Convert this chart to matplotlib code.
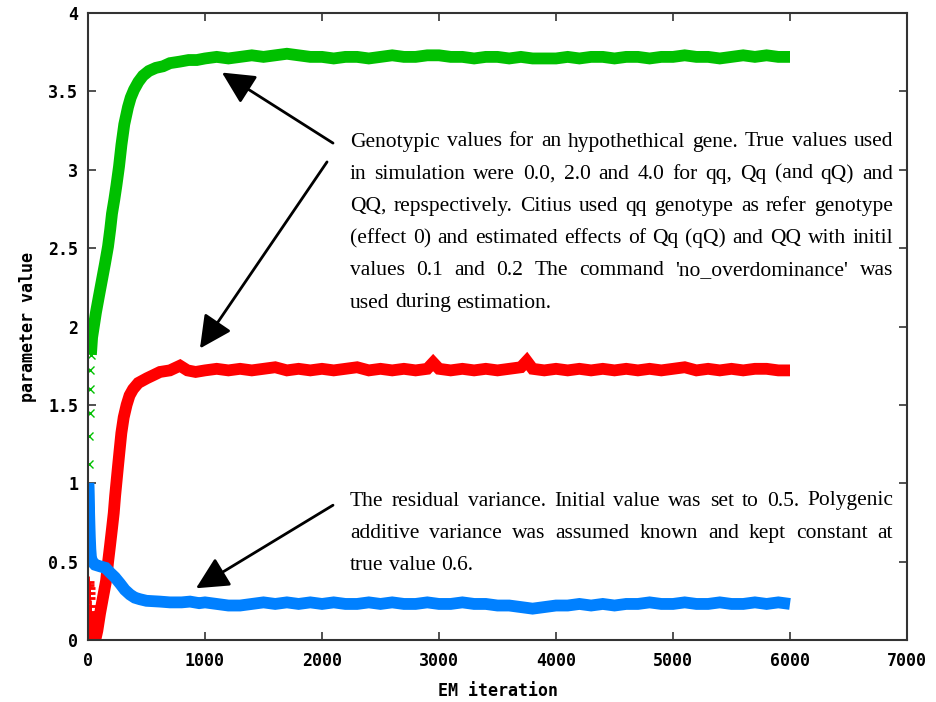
import matplotlib
matplotlib.use("Agg")
import matplotlib.pyplot as plt

# EM iterations / parameter values
green_it = [0, 2, 4, 6, 8, 10, 12, 14, 17, 20, 25,
            35, 68, 95, 120, 145, 171, 190, 205, 225, 243, 265, 286, 310, 342, 365, 393,
            430, 470, 520, 580, 641, 700, 786, 860, 930, 1000,
            1100, 1200, 1300, 1400, 1500, 1600, 1700, 1800, 1900, 2000,
            2100, 2200, 2300, 2400, 2500, 2600, 2700, 2800, 2900, 3000,
            3100, 3200, 3300, 3400, 3500, 3600, 3700, 3800, 3900, 4000,
            4100, 4200, 4300, 4400, 4500, 4600, 4700, 4800, 4900, 5000,
            5100, 5200, 5300, 5400, 5500, 5600, 5700, 5800, 5900, 6000]
green_val = [0.2, 0.32, 0.5, 0.72, 0.95, 1.12, 1.3, 1.45, 1.6, 1.72, 1.82,
             1.93, 2.09, 2.2, 2.30, 2.4, 2.51, 2.62, 2.72, 2.81, 2.9, 3.02, 3.16, 3.29, 3.40, 3.46, 3.51,
             3.56, 3.6, 3.63, 3.65, 3.66, 3.68, 3.69, 3.70, 3.70, 3.71,
             3.72, 3.71, 3.72, 3.73, 3.72, 3.73, 3.74, 3.73, 3.72, 3.72,
             3.71, 3.72, 3.72, 3.71, 3.72, 3.73, 3.72, 3.72, 3.73, 3.73,
             3.72, 3.72, 3.71, 3.72, 3.72, 3.71, 3.72, 3.71, 3.71, 3.71,
             3.72, 3.71, 3.72, 3.72, 3.71, 3.72, 3.72, 3.71, 3.72, 3.72,
             3.73, 3.72, 3.72, 3.71, 3.72, 3.73, 3.72, 3.73, 3.72, 3.72]

red_it = [0, 2, 4, 6, 9, 12, 16, 20,
          25, 35, 45, 55, 65, 80, 103, 130, 155, 172, 188, 205, 220, 232, 245, 258, 270,
          285, 305, 330, 355, 385, 430, 504, 560, 615, 700, 786, 850, 920, 1000,
          1100, 1200, 1300, 1400, 1500, 1600, 1700, 1800, 1900, 2000,
          2100, 2200, 2300, 2400, 2500, 2600, 2700, 2800, 2900, 2950, 3000,
          3100, 3200, 3300, 3400, 3500, 3600, 3700, 3750, 3800, 3900, 4000,
          4100, 4200, 4300, 4400, 4500, 4600, 4700, 4800, 4900, 5000,
          5100, 5200, 5300, 5400, 5500, 5600, 5700, 5800, 5900, 6000]
red_val = [0.1, 0.37, 0.35, 0.33, 0.3, 0.27, 0.22, 0.18,
           0.14, 0.08, 0.03, 0.0, 0.01, 0.06, 0.17, 0.28, 0.38, 0.5, 0.60, 0.71, 0.81, 0.92, 1.02, 1.12, 1.21,
           1.32, 1.42, 1.50, 1.56, 1.60, 1.64, 1.67, 1.69, 1.71, 1.72, 1.75, 1.72, 1.71, 1.72,
           1.73, 1.72, 1.73, 1.72, 1.73, 1.74, 1.72, 1.73, 1.72, 1.73,
           1.72, 1.73, 1.74, 1.72, 1.73, 1.72, 1.73, 1.72, 1.73, 1.77, 1.73,
           1.72, 1.73, 1.72, 1.73, 1.72, 1.73, 1.74, 1.78, 1.73, 1.72, 1.73,
           1.72, 1.73, 1.72, 1.73, 1.72, 1.73, 1.72, 1.73, 1.72, 1.73,
           1.74, 1.72, 1.73, 1.72, 1.73, 1.72, 1.73, 1.73, 1.72, 1.72]

blue_it = [0, 2, 4, 6, 8, 10, 13, 16, 20, 25,
           35, 60, 103, 150, 188, 230, 274, 315, 359, 400, 444, 500, 615, 700, 800, 872, 950, 1000,
           1100, 1200, 1300, 1400, 1500, 1600, 1700, 1800, 1900, 2000,
           2100, 2200, 2300, 2400, 2500, 2600, 2700, 2800, 2900, 3000,
           3100, 3200, 3300, 3400, 3500, 3600, 3700, 3800, 3900, 4000,
           4100, 4200, 4300, 4400, 4500, 4600, 4700, 4800, 4900, 5000,
           5100, 5200, 5300, 5400, 5500, 5600, 5700, 5800, 5900, 6000]
blue_val = [0.5, 1.0, 0.98, 0.93, 0.87, 0.8, 0.72, 0.65, 0.58, 0.53,
            0.5, 0.48, 0.47, 0.46, 0.43, 0.40, 0.36, 0.32, 0.29, 0.27, 0.26, 0.25, 0.245, 0.24, 0.24, 0.245, 0.235, 0.24,
            0.23, 0.22, 0.22, 0.23, 0.24, 0.23, 0.24, 0.23, 0.24, 0.23,
            0.24, 0.23, 0.23, 0.24, 0.23, 0.24, 0.23, 0.23, 0.24, 0.23,
            0.23, 0.24, 0.23, 0.23, 0.22, 0.22, 0.21, 0.20, 0.21, 0.22,
            0.22, 0.23, 0.22, 0.23, 0.22, 0.23, 0.23, 0.24, 0.23, 0.23,
            0.24, 0.23, 0.23, 0.24, 0.23, 0.23, 0.24, 0.23, 0.24, 0.23]

n_green_pts = 11   # first iterations drawn as single markers
n_red_pts = 8

xticks = [0, 1000, 2000, 3000, 4000, 5000, 6000, 7000]
yticks = [0, 0.5, 1, 1.5, 2, 2.5, 3, 3.5, 4]
ytick_labels = ['0', '0.5', '1', '1.5', '2', '2.5', '3', '3.5', '4']

text1 = ["Genotypic values for an hypothethical gene. True values used",
         "in simulation were 0.0, 2.0 and 4.0 for qq, Qq (and qQ) and",
         "QQ, repspectively. Citius used qq genotype as refer genotype",
         "(effect 0) and estimated effects of Qq (qQ) and QQ with initil",
         "values 0.1 and 0.2 The command 'no_overdominance' was",
         "used during estimation."]
text2 = ["The residual variance. Initial value was set to 0.5. Polygenic",
         "additive variance was assumed known and kept constant at",
         "true value 0.6."]

W, H = 936, 702
fig = plt.figure(figsize=(W / 100, H / 100), dpi=100)
ax = fig.add_axes([88 / W, 1 - 640 / H, (907 - 88) / W, (640 - 13) / H])

GREEN, RED, BLUE = '#00c000', '#ff0000', '#0080ff'
lw = 8.5

ax.plot(green_it[:n_green_pts], green_val[:n_green_pts], 'x', color=GREEN, ms=6, mew=1)
ax.plot(red_it[:n_red_pts], red_val[:n_red_pts], '+', color=RED, ms=8, mew=2)
ax.plot(green_it[n_green_pts - 1:], green_val[n_green_pts - 1:], color=GREEN, lw=lw,
        solid_joinstyle='miter', solid_capstyle='butt')
ax.plot(red_it[n_red_pts - 1:], red_val[n_red_pts - 1:], color=RED, lw=lw,
        solid_joinstyle='miter', solid_capstyle='butt')
ax.plot(blue_it, blue_val, color=BLUE, lw=lw, solid_joinstyle='miter', solid_capstyle='butt')

ax.set_xlim(0, 7000)
ax.set_ylim(0, 4)
ax.set_xticks(xticks)
ax.set_yticks(yticks)
ax.set_yticklabels(ytick_labels)
tickfont = dict(family='DejaVu Sans Mono', weight='bold', size=12)
for lab in ax.get_xticklabels() + ax.get_yticklabels():
    lab.set_fontfamily('DejaVu Sans Mono')
    lab.set_fontweight('bold')
    lab.set_fontsize(12)
ax.tick_params(direction='in', length=6, width=1.2, top=True, right=True, color='#333333')
ax.tick_params(axis='x', pad=9)
ax.tick_params(axis='y', pad=7)
for s in ax.spines.values():
    s.set_linewidth(1.5)
    s.set_color('#333333')
ax.set_xlabel('EM iteration', fontdict=tickfont, labelpad=8)
ax.set_ylabel('parameter value', fontdict=tickfont, labelpad=8)

arrow_kw = dict(arrowstyle='-|>,head_length=0.9,head_width=0.45', color='black', lw=2,
                mutation_scale=22, shrinkA=0, shrinkB=0)
ax.annotate('', xy=(1145, 3.62), xytext=(2094, 3.17), arrowprops=arrow_kw)
ax.annotate('', xy=(957, 1.86), xytext=(2043, 3.05), arrowprops=arrow_kw)
ax.annotate('', xy=(923, 0.33), xytext=(2094, 0.86), arrowprops=arrow_kw)

# justified paragraphs, placed in figure pixels
renderer = fig.canvas.get_renderer()


def justified(lines, x0, x1, y0, dy, size=15.5):
    for i, line in enumerate(lines):
        y = 1 - (y0 + i * dy) / H
        words = line.split(' ')
        objs = [fig.text(0, y, w, fontsize=size, family='Liberation Serif', va='center')
                for w in words]
        widths = [t.get_window_extent(renderer).width for t in objs]
        if i == len(lines) - 1:
            gap = size * 0.25 * 100 / 72
        else:
            gap = (x1 - x0 - sum(widths)) / (len(words) - 1)
        x = x0
        for t, w in zip(objs, widths):
            t.set_x(x / W)
            x += w + gap


justified(text1, 350, 893, 142, 32.2)
justified(text2, 350, 893, 501, 32.2)

fig.savefig('out.png', dpi=100)
